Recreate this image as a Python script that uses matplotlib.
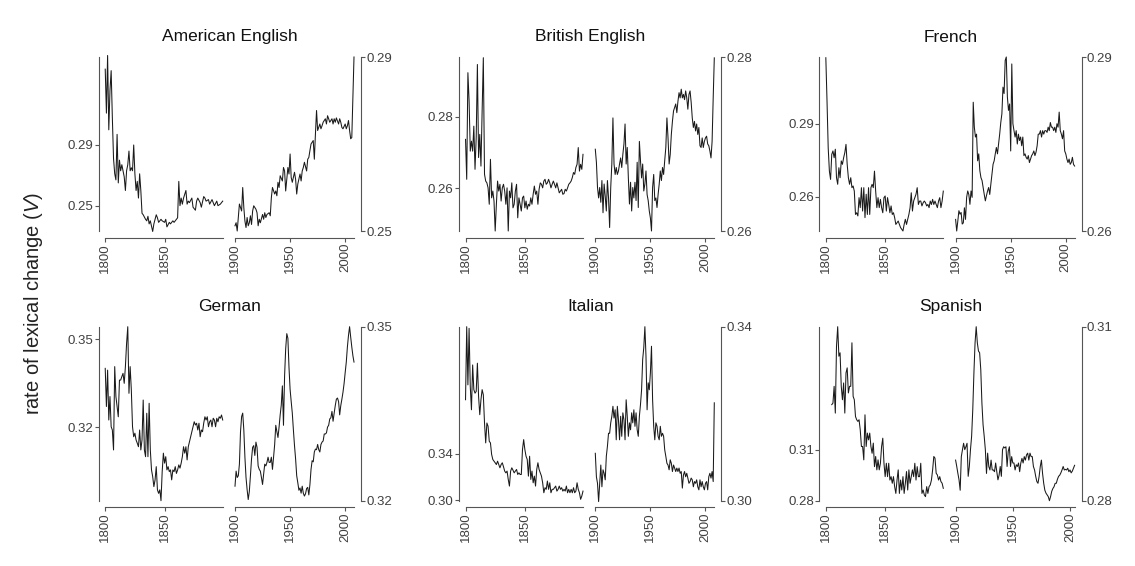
import matplotlib
matplotlib.use("Agg")
import matplotlib.pyplot as plt

plt.rcParams['font.family'] = ['Liberation Sans', 'DejaVu Sans']
plt.rcParams['mathtext.fontset'] = 'custom'
plt.rcParams['mathtext.rm'] = 'Liberation Sans'
plt.rcParams['mathtext.it'] = 'Liberation Sans:italic'

# ---- data (rate of lexical change V) ----
languages = ['American English', 'British English', 'French', 'German', 'Italian', 'Spanish']
tick_values = [(0.25, 0.29), (0.26, 0.28), (0.26, 0.29), (0.32, 0.35), (0.30, 0.34), (0.28, 0.31)]
left_ylim = [(0.2333, 0.348), (0.2480, 0.2968), (0.2459, 0.3174), (0.295, 0.3543), (0.2997, 0.4484), (0.28, 0.3827)]

years_19c = list(range(1800, 1900))
years_20c = list(range(1900, 2009))

am_early_years = [1800, 1801, 1802, 1803, 1804, 1805, 1806, 1807, 1808, 1809, 1810, 1811, 1812, 1813, 1814,
                  1815, 1816, 1817, 1818, 1819, 1820, 1821, 1822, 1823, 1824, 1825, 1826, 1827, 1828, 1829,
                  1830, 1831, 1832, 1834, 1835, 1836, 1837, 1838, 1840, 1841, 1843, 1844, 1845, 1847, 1848,
                  1850, 1851, 1852, 1854, 1855, 1857, 1858, 1860, 1861, 1862, 1863, 1864, 1865, 1866, 1868,
                  1869, 1870, 1871, 1873, 1874, 1876, 1877, 1878, 1880, 1881, 1883, 1884, 1885, 1887, 1888,
                  1890, 1891, 1892, 1894, 1895, 1897, 1899]
am_early = [.340, .311, .349, .300, .326, .339, .308, .281, .271, .267, .297, .265, .280, .273, .277, .273,
            .269, .260, .273, .277, .286, .273, .275, .273, .290, .271, .260, .266, .255, .271, .260, .245,
            .244, .241, .240, .243, .238, .240, .233, .238, .244, .242, .239, .241, .240, .239, .241, .236,
            .239, .238, .240, .239, .241, .242, .266, .250, .255, .251, .255, .260, .251, .253, .252, .255,
            .249, .247, .253, .255, .252, .249, .256, .255, .253, .254, .251, .254, .252, .250, .253, .250,
            .251, .253]
am_late_years = [1900, 1901, 1902, 1903, 1904, 1906, 1907, 1908, 1909, 1910, 1911, 1912, 1913, 1914, 1915,
                 1916, 1917, 1919, 1920, 1921, 1922, 1923, 1925, 1926, 1927, 1928, 1929, 1931, 1932, 1933,
                 1934, 1936, 1937, 1938, 1939, 1940, 1941, 1943, 1944, 1945, 1946, 1948, 1949, 1950, 1951,
                 1952, 1954, 1955, 1956, 1957, 1959, 1960, 1961, 1962, 1963, 1965, 1966, 1967, 1968, 1969,
                 1971, 1972, 1973, 1974, 1975, 1977, 1978, 1979, 1980, 1982, 1983, 1984, 1985, 1986, 1988,
                 1989, 1990, 1991, 1992, 1994, 1995, 1996, 1997, 1998, 2000, 2001, 2002, 2003, 2004, 2005,
                 2006, 2007, 2008]
am_late = [.2512, .2519, .2500, .2531, .2562, .2546, .2600, .2554, .2523, .2508, .2531, .2512, .2519, .2535,
           .2515, .2546, .2558, .2550, .2542, .2512, .2527, .2519, .2538, .2527, .2542, .2531, .2538, .2542,
           .2535, .2577, .2600, .2585, .2592, .2581, .2612, .2600, .2627, .2615, .2646, .2638, .2592, .2646,
           .2631, .2677, .2623, .2612, .2635, .2619, .2585, .2608, .2631, .2615, .2638, .2646, .2658, .2638,
           .2665, .2669, .2685, .2700, .2708, .2665, .2723, .2777, .2731, .2746, .2735, .2742, .2750, .2758,
           .2746, .2765, .2758, .2750, .2758, .2746, .2758, .2750, .2760, .2746, .2758, .2750, .2738, .2735,
           .2746, .2735, .2742, .2754, .2731, .2712, .2715, .2808, .2900]

br_early = [.2737, .2625, .2924, .2845, .2704, .2732, .2704, .2774, .2653, .2742,
            .2947, .2686, .2751, .2662, .2817, .2966, .2639, .2620, .2615, .2601,
            .2555, .2681, .2573, .2592, .2564, .2480, .2555, .2620, .2592, .2611,
            .2564, .2601, .2611, .2592, .2555, .2601, .2480, .2592, .2573, .2615,
            .2545, .2555, .2592, .2611, .2517, .2573, .2555, .2536, .2573, .2578,
            .2545, .2564, .2541, .2555, .2550, .2573, .2555, .2583, .2606, .2583,
            .2592, .2555, .2597, .2615, .2611, .2601, .2620, .2625, .2611, .2615,
            .2625, .2615, .2601, .2611, .2620, .2611, .2601, .2615, .2601, .2587,
            .2592, .2597, .2583, .2585, .2597, .2592, .2601, .2611, .2615, .2620,
            .2630, .2644, .2639, .2658, .2667, .2714, .2648, .2667, .2653, .2695]
br_late = [.2694, .2679, .2650, .2638, .2650, .2633, .2658, .2621, .2654, .2640,
           .2623, .2658, .2638, .2604, .2650, .2677, .2730, .2677, .2665, .2673,
           .2665, .2669, .2677, .2684, .2673, .2688, .2700, .2723, .2677, .2696,
           .2661, .2631, .2656, .2623, .2650, .2638, .2656, .2635, .2679, .2627,
           .2703, .2681, .2661, .2677, .2646, .2654, .2669, .2642, .2635, .2623,
           .2615, .2600, .2650, .2665, .2635, .2638, .2627, .2642, .2654, .2669,
           .2658, .2673, .2665, .2681, .2696, .2730, .2707, .2677, .2688, .2711,
           .2726, .2738, .2742, .2746, .2736, .2749, .2759, .2753, .2763, .2753,
           .2757, .2751, .2761, .2753, .2740, .2757, .2761, .2748, .2730, .2719,
           .2726, .2715, .2723, .2711, .2719, .2698, .2696, .2707, .2696, .2703,
           .2707, .2709, .2700, .2698, .2692, .2684, .2703, .2753, .2799]

fr_early = [.3171, .2993, .2801, .2705, .2671, .2774, .2788, .2760, .2795, .2678,
            .2651, .2719, .2678, .2747, .2733, .2760, .2781, .2815, .2733, .2678,
            .2651, .2678, .2637, .2644, .2623, .2527, .2534, .2521, .2596, .2555,
            .2637, .2541, .2637, .2514, .2610, .2527, .2637, .2527, .2637, .2651,
            .2637, .2705, .2623, .2555, .2596, .2555, .2589, .2555, .2534, .2596,
            .2603, .2541, .2596, .2568, .2534, .2562, .2527, .2534, .2514, .2486,
            .2493, .2500, .2486, .2473, .2466, .2459, .2486, .2507, .2486, .2507,
            .2527, .2555, .2616, .2541, .2582, .2596, .2610, .2637, .2568, .2582,
            .2582, .2562, .2575, .2582, .2575, .2562, .2568, .2555, .2582, .2568,
            .2589, .2568, .2582, .2568, .2555, .2582, .2596, .2555, .2582, .2623]
fr_late = [.2620, .2600, .2617, .2635, .2629, .2632, .2612, .2614, .2640, .2620,
           .2658, .2669, .2663, .2646, .2669, .2658, .2822, .2779, .2762, .2767,
           .2721, .2733, .2704, .2692, .2687, .2675, .2663, .2652, .2661, .2669,
           .2675, .2663, .2681, .2698, .2715, .2721, .2733, .2744, .2733, .2750,
           .2767, .2787, .2802, .2848, .2837, .2894, .2900, .2831, .2808, .2819,
           .2738, .2888, .2785, .2773, .2762, .2773, .2750, .2767, .2756, .2762,
           .2747, .2762, .2730, .2733, .2727, .2724, .2730, .2718, .2724, .2730,
           .2733, .2738, .2730, .2736, .2747, .2767, .2767, .2773, .2762, .2773,
           .2767, .2773, .2773, .2770, .2779, .2773, .2787, .2779, .2779, .2773,
           .2779, .2770, .2785, .2779, .2805, .2773, .2767, .2759, .2773, .2738,
           .2733, .2724, .2718, .2724, .2715, .2718, .2727, .2715, .2712]

de_early = [.3401, .3271, .3395, .3225, .3305, .3202, .3191, .3123, .3407, .3305,
            .3271, .3236, .3361, .3361, .3373, .3384, .3350, .3407, .3486, .3543,
            .3316, .3407, .3327, .3202, .3168, .3180, .3157, .3146, .3134, .3191,
            .3123, .3157, .3293, .3123, .3100, .3248, .3100, .3282, .3123, .3055,
            .3032, .2998, .3021, .3066, .2987, .2975, .2987, .2950, .3049, .3112,
            .3078, .3100, .3055, .3066, .3049, .3055, .3021, .3055, .3049, .3066,
            .3043, .3055, .3072, .3061, .3078, .3100, .3134, .3112, .3134, .3089,
            .3134, .3151, .3168, .3185, .3202, .3219, .3208, .3214, .3191, .3214,
            .3168, .3191, .3185, .3214, .3236, .3225, .3236, .3202, .3219, .3225,
            .3202, .3231, .3225, .3202, .3231, .3219, .3236, .3231, .3242, .3225]
de_late = [.3225, .3251, .3240, .3243, .3263, .3319, .3345, .3351, .3322, .3275,
           .3240, .3219, .3202, .3216, .3243, .3272, .3292, .3295, .3278, .3301,
           .3292, .3260, .3254, .3251, .3240, .3228, .3246, .3263, .3260, .3266,
           .3275, .3266, .3266, .3275, .3254, .3275, .3297, .3330, .3319, .3309,
           .3327, .3348, .3365, .3398, .3330, .3415, .3462, .3488, .3480, .3430,
           .3392, .3371, .3351, .3322, .3295, .3272, .3243, .3231, .3218, .3222,
           .3213, .3225, .3213, .3208, .3212, .3221, .3223, .3210, .3228, .3254,
           .3269, .3267, .3284, .3289, .3288, .3297, .3288, .3284, .3297, .3301,
           .3303, .3315, .3315, .3317, .3327, .3330, .3341, .3343, .3354, .3337,
           .3351, .3364, .3375, .3377, .3371, .3348, .3364, .3375, .3387, .3402,
           .3421, .3439, .3465, .3485, .3500, .3482, .3465, .3450, .3439]

it_early = [.3860, .4484, .3987, .4470, .3973, .3774, .4157, .3946, .3916, .3931,
            .4172, .3888, .3732, .3860, .3946, .3902, .3661, .3491, .3661, .3633,
            .3505, .3491, .3392, .3349, .3335, .3321, .3306, .3335, .3306, .3278,
            .3306, .3321, .3287, .3250, .3235, .3250, .3179, .3122, .3250, .3278,
            .3258, .3235, .3250, .3264, .3221, .3235, .3221, .3221, .3434, .3519,
            .3434, .3377, .3349, .3207, .3377, .3179, .3250, .3150, .3207, .3122,
            .3264, .3321, .3264, .3235, .3207, .3150, .3065, .3108, .3094, .3165,
            .3094, .3150, .3065, .3094, .3094, .3108, .3122, .3079, .3094, .3122,
            .3094, .3108, .3079, .3094, .3079, .3122, .3065, .3094, .3065, .3094,
            .3065, .3108, .3065, .3079, .3150, .3094, .3065, .3009, .3037, .3079]
it_late = [.3109, .3055, .3040, .2998, .3040, .3082, .3032, .3071, .3063, .3048,
           .3102, .3125, .3155, .3155, .3179, .3194, .3217, .3190, .3209, .3140,
           .3217, .3186, .3140, .3194, .3148, .3202, .3186, .3140, .3232, .3194,
           .3148, .3179, .3163, .3202, .3179, .3209, .3171, .3202, .3163, .3148,
           .3194, .3221, .3255, .3325, .3352, .3400, .3332, .3209, .3271, .3255,
           .3294, .3355, .3232, .3171, .3140, .3179, .3171, .3148, .3140, .3171,
           .3148, .3155, .3148, .3117, .3102, .3086, .3082, .3071, .3094, .3086,
           .3067, .3082, .3075, .3067, .3075, .3067, .3075, .3063, .3067, .3029,
           .3059, .3067, .3055, .3063, .3052, .3040, .3044, .3052, .3048, .3032,
           .3044, .3040, .3048, .3032, .3025, .3048, .3032, .3044, .3032, .3025,
           .3040, .3044, .3025, .3055, .3063, .3052, .3067, .3044, .3225]

es_early_years = list(range(1805, 1900))
es_early = [.3367, .3376, .3475, .3317, .3712,
            .3827, .3653, .3673, .3475, .3396, .3495, .3317, .3554, .3584, .3436,
            .3475, .3475, .3732, .3416, .3396, .3297, .3278, .3268, .3278, .3218,
            .3120, .3120, .3041, .3307, .3120, .3199, .3159, .3199, .3120, .3080,
            .3140, .3001, .3061, .2982, .3041, .2982, .3021, .3120, .3169, .3021,
            .2942, .3021, .2942, .3021, .2922, .2942, .2903, .2942, .2883, .2843,
            .2922, .2982, .2843, .2922, .2863, .2942, .2843, .2903, .2972, .2863,
            .2982, .2903, .2942, .2982, .2942, .3021, .2922, .3001, .2942, .2942,
            .3021, .2843, .2863, .2834, .2824, .2883, .2843, .2883, .2893, .2922,
            .2982, .3061, .3051, .2962, .2952, .2922, .2942, .2913, .2903, .2873]
es_late_years = list(range(1900, 2005))
es_late = [.2870, .2859, .2847, .2836, .2818, .2876, .2888, .2899, .2888, .2893,
           .2899, .2842, .2859, .2888, .2911, .2957, .3020, .3072, .3100, .3072,
           .3058, .3055, .3026, .2968, .2931, .2911, .2888, .2847, .2882, .2859,
           .2853, .2870, .2853, .2853, .2850, .2865, .2850, .2836, .2844, .2859,
           .2842, .2888, .2893, .2891, .2893, .2859, .2885, .2893, .2859, .2876,
           .2865, .2865, .2853, .2862, .2859, .2865, .2850, .2865, .2873, .2865,
           .2876, .2870, .2879, .2882, .2870, .2882, .2876, .2876, .2859, .2853,
           .2842, .2833, .2830, .2842, .2859, .2870, .2847, .2830, .2818, .2813,
           .2810, .2807, .2800, .2807, .2816, .2821, .2824, .2830, .2830, .2837,
           .2842, .2844, .2848, .2853, .2859, .2853, .2854, .2853, .2856, .2850,
           .2853, .2848, .2851, .2856, .2861]

early = [(am_early_years, am_early), (years_19c, br_early), (years_19c, fr_early),
         (years_19c, de_early), (years_19c, it_early), (es_early_years, es_early)]
late = [(am_late_years, am_late), (years_20c, br_late), (years_20c, fr_late),
        (years_20c, de_late), (years_20c, it_late), (es_late_years, es_late)]

# ---- layout (pixels) ----
W, H = 1135, 566
AX_GRAY = '#555555'
TXT = '#404040'
LINE = '#1a1a1a'


def box(x, y, w, h):
    return [x / W, 1 - (y + h) / H, w / W, h / H]


def style(ax, side):
    ax.set_facecolor('none')
    ax.spines['top'].set_visible(False)
    hide = 'right' if side == 'left' else 'left'
    ax.spines[hide].set_visible(False)
    ax.spines[side].set_color(AX_GRAY)
    ax.spines['bottom'].set_color(AX_GRAY)
    ax.spines['bottom'].set_position(('outward', 4.8))
    ax.tick_params(axis='both', direction='out', length=2.6, width=0.8, color=AX_GRAY,
                   labelsize=9.5, labelcolor=TXT, pad=1.2)
    ax.tick_params(axis='x', labelrotation=90)
    ax.yaxis.set_ticks_position(side)


fig = plt.figure(figsize=(W / 100, H / 100), dpi=100)

for i, name in enumerate(languages):
    r, c = divmod(i, 3)
    x0 = 98.7 + 360.3 * c
    yt = 57 + 269.7 * r
    h = 174
    lo, hi = tick_values[i]

    ax1 = fig.add_axes(box(x0, yt, 124, h))
    yrs, vals = early[i]
    ax1.plot(yrs, vals, color=LINE, lw=0.75, clip_on=False)
    ax1.set_xlim(1794.5, 1899)
    ax1.set_ylim(*left_ylim[i])
    style(ax1, 'left')
    ax1.spines['bottom'].set_bounds(1800, 1899)
    ax1.set_xticks([1800, 1850])
    ax1.set_yticks([lo, hi])
    ax1.set_yticklabels([f'{lo:.2f}', f'{hi:.2f}'])

    ax2 = fig.add_axes(box(x0 + 136.3, yt, 119, h))
    yrs, vals = late[i]
    ax2.plot(yrs, vals, color=LINE, lw=0.75, clip_on=False)
    ax2.set_xlim(1900, yrs[-1])
    ax2.set_ylim(lo, hi)
    style(ax2, 'right')
    ax2.spines['right'].set_position(('outward', 5))
    ax2.spines['bottom'].set_bounds(1900, yrs[-1])
    ax2.set_xticks([1900, 1950, 2000])
    ax2.set_yticks([lo, hi])
    ax2.set_yticklabels([f'{lo:.2f}', f'{hi:.2f}'])

    fig.text((x0 + 131.3) / W, 1 - (yt - 20) / H, name, ha='center', va='center',
             fontsize=12.5, color='#111111')

fig.text(34 / W, 1 - 303 / H, 'rate of lexical change ($\\mathit{V}$)', rotation=90,
         ha='center', va='center', fontsize=14.5, color='#222222')

fig.savefig('out.png', dpi=100)
